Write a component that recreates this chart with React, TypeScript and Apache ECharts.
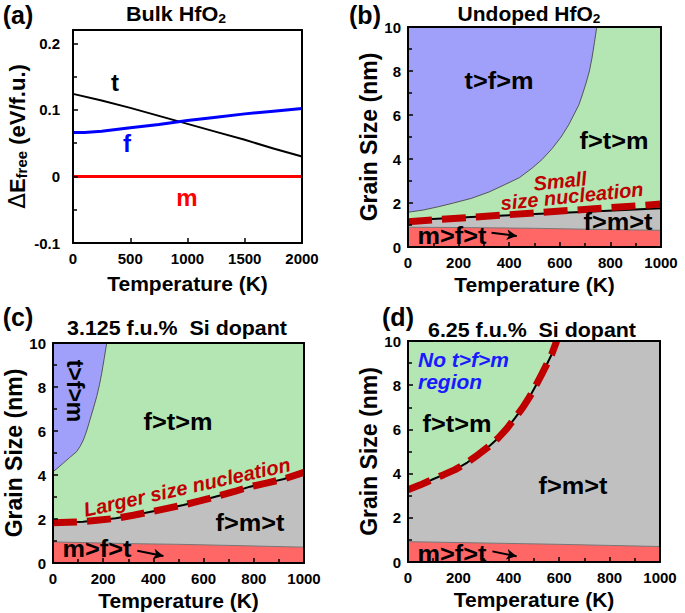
import React, { useEffect, useRef } from "react";
import * as echarts from "echarts";

const FONT = "'Liberation Sans', Arial, Helvetica, sans-serif";

// ---------- Panel (a): Bulk HfO2 free energy vs temperature ----------
const tempAT = [0, 250, 500, 750, 1000, 1250, 1500, 1750, 2000];
const energyT = [0.124, 0.114, 0.103, 0.091, 0.079, 0.067, 0.055, 0.042, 0.03];
const tempAF = [0, 100, 250, 500, 750, 1000, 1250, 1500, 1750, 2000];
const energyF = [0.066, 0.066, 0.068, 0.073, 0.078, 0.084, 0.089, 0.094, 0.098, 0.102];
const tempAM = [0, 2000];
const energyM = [0, 0];

// ---------- Panel (b): Undoped HfO2 ----------
const bTopTemps = [0, 60, 120, 180, 250, 320, 380, 440, 490, 530, 570, 605, 635, 655, 675, 690, 705, 717, 727, 737, 746, 1000];
const bTopGrain = [1.58, 1.68, 1.83, 2.0, 2.21, 2.5, 2.82, 3.15, 3.58, 3.98, 4.48, 5.0, 5.55, 6.0, 6.45, 6.95, 7.5, 8.0, 8.58, 9.3, 10, 10];
const bMidTemps = [0, 250, 500, 750, 1000];
const bMidGrain = [1.22, 1.36, 1.5, 1.63, 1.76];
const bDashGrain = [1.15, 1.35, 1.55, 1.75, 1.95];
const bLowTemps = [0, 250, 500, 750, 1000];
const bLowGrain = [0.9, 0.88, 0.85, 0.8, 0.76];
const bArrow = [[330, 0.65], [430, 0.5]];

// ---------- Panel (c): 3.125 f.u.% Si ----------
const cTopTemps = [0, 20, 40, 65, 94, 108, 121, 134, 147, 160, 174, 185, 194, 204, 214, 1000];
const cTopGrain = [4.15, 4.33, 4.53, 4.78, 5.06, 5.3, 5.59, 6.0, 6.5, 7.0, 7.56, 8.1, 8.62, 9.3, 10, 10];
const cMidTemps = [0, 60, 120, 185, 250, 320, 390, 455, 520, 585, 650, 720, 785, 850, 920, 1000];
const cMidGrain = [1.83, 1.85, 1.88, 1.95, 2.03, 2.17, 2.33, 2.48, 2.64, 2.82, 3.02, 3.24, 3.47, 3.63, 3.82, 4.12];
const cLowTemps = [0, 150, 300, 500, 700, 850, 1000];
const cLowGrain = [0.96, 0.92, 0.88, 0.85, 0.8, 0.76, 0.72];
const cArrow = [[336, 0.56], [440, 0.32]];

// ---------- Panel (d): 6.25 f.u.% Si ----------
const dCurveTemps = [0, 47, 94, 140, 187, 235, 279, 320, 358, 393, 425, 456, 484, 508, 530, 551, 570, 590, 1000];
const dCurveGrain = [3.27, 3.48, 3.72, 3.94, 4.18, 4.5, 4.86, 5.22, 5.61, 6.05, 6.52, 7.0, 7.5, 8.0, 8.48, 8.95, 9.39, 10, 10];
const dDashTemps = [0, 47, 94, 140, 187, 235, 279, 320, 358, 393, 425, 456, 484, 508, 530, 551, 570, 590];
const dDashGrain = [3.27, 3.48, 3.72, 3.94, 4.18, 4.5, 4.86, 5.22, 5.61, 6.05, 6.52, 7.0, 7.5, 8.0, 8.48, 8.95, 9.39, 10];
const dLowTemps = [0, 200, 400, 600, 800, 1000];
const dLowGrain = [0.92, 0.88, 0.84, 0.8, 0.75, 0.7];
const dArrow = [[335, 0.48], [431, 0.26]];

const C_BLUE = "#a0a0fa";
const C_GREEN = "#b4e6b4";
const C_GRAY = "#c0c0c0";
const C_RED = "#ff6666";
const C_DASH = "#c00000";

const zip = (xs: number[], ys: number[]) => xs.map((x, i) => [x, ys[i]]);

function buildOption() {
  const axisText = { color: "#000", fontWeight: "bold", fontSize: 15, fontFamily: FONT };
  const nameText = { color: "#000", fontWeight: "bold", fontSize: 21, fontFamily: FONT };
  const grids = [
    { left: 73, top: 30, width: 229, height: 213, show: true, backgroundColor: "#fff", borderWidth: 0 },
    { left: 408, top: 27, width: 253, height: 220, show: true, backgroundColor: C_BLUE, borderWidth: 0 },
    { left: 53, top: 343, width: 251, height: 220, show: true, backgroundColor: C_BLUE, borderWidth: 0 },
    { left: 408, top: 341, width: 252, height: 221, show: true, backgroundColor: C_GREEN, borderWidth: 0 },
  ];
  const frame = { show: true, onZero: false, lineStyle: { color: "#000", width: 2 } };
  const xAxes: any[] = [];
  const yAxes: any[] = [];
  const yNameGaps = [44, 27, 27, 27];
  grids.forEach((_, i) => {
    const isA = i === 0;
    xAxes.push({
      gridIndex: i, type: "value", position: "bottom", z: 10,
      min: 0, max: isA ? 2000 : 1000, interval: isA ? 500 : 200,
      axisLine: frame,
      axisTick: { show: true, inside: true, length: 5, lineStyle: { color: "#000", width: 1.5 } },
      minorTick: { show: !isA, splitNumber: 2, length: 4, lineStyle: { color: "#000", width: 1.5 } },
      splitLine: { show: false },
      axisLabel: { ...axisText, margin: 8, formatter: (v: number) => String(Math.round(v)) },
      name: "Temperature (K)", nameLocation: "middle", nameGap: isA ? 30 : 27, nameTextStyle: nameText,
    });
    xAxes.push({
      gridIndex: i, type: "value", position: "top", z: 10,
      min: 0, max: isA ? 2000 : 1000,
      axisLine: frame, axisTick: { show: false }, axisLabel: { show: false }, splitLine: { show: false },
    });
    yAxes.push({
      gridIndex: i, type: "value", position: "left", z: 10,
      min: isA ? -0.1 : 0, max: isA ? 0.22 : 10, interval: isA ? 0.1 : 2,
      axisLine: frame,
      axisTick: { show: true, inside: true, length: 5, lineStyle: { color: "#000", width: 1.5 } },
      minorTick: { show: true, splitNumber: 2, length: 4, lineStyle: { color: "#000", width: 1.5 } },
      splitLine: { show: false },
      axisLabel: {
        ...axisText, margin: isA ? 13 : 7, showMaxLabel: !isA,
        formatter: (v: number) => (Math.abs(v) < 1e-9 ? "0" : String(Math.round(v * 10) / 10)),
      },
      name: isA ? "{d|Δ}{e|E}{s|free}{e| (eV/f.u.)}" : "Grain Size (nm)",
      nameLocation: "middle", nameGap: yNameGaps[i],
      nameTextStyle: isA
        ? {
            ...nameText,
            rich: {
              d: { fontSize: 23, fontWeight: "normal", fontFamily: "'DejaVu Sans', sans-serif", color: "#000" },
              e: { fontSize: 22, fontWeight: "bold", fontFamily: FONT, color: "#000" },
              s: { fontSize: 15, fontWeight: "bold", fontFamily: FONT, color: "#000", verticalAlign: "bottom", padding: [9, 0, 0, 0] },
            },
          }
        : { ...nameText, fontSize: 23 },
    });
    yAxes.push({
      gridIndex: i, type: "value", position: "right", z: 10,
      min: isA ? -0.1 : 0, max: isA ? 0.22 : 10,
      axisLine: frame, axisTick: { show: false }, axisLabel: { show: false }, splitLine: { show: false },
    });
  });

  const ax = (i: number) => ({ xAxisIndex: 2 * i, yAxisIndex: 2 * i });
  const area = (i: number, data: number[][], fill: string, edge: string, edgeW: number, z: number, extra: any = {}) => ({
    type: "line", ...ax(i), data, symbol: "none", smooth: false, z,
    lineStyle: { color: edge, width: edgeW, join: "round" },
    areaStyle: { color: fill, opacity: 1, origin: "start" },
    silent: true,
    ...extra,
  });
  const line = (i: number, data: number[][], color: string, width: number, z: number, type: any = "solid") => ({
    type: "line", ...ax(i), data, symbol: "none", smooth: false, z, silent: true,
    lineStyle: { color, width, type, cap: "butt", join: "round" },
  });
  const arrow = (pts: number[][]) => ({
    silent: true,
    symbol: ["none", "arrow"],
    symbolSize: [8, 10],
    lineStyle: { color: "#000", width: 2, type: "solid" },
    label: { show: false },
    data: [[{ coord: pts[0] }, { coord: pts[1] }]],
  });

  const series: any[] = [
    // (a)
    line(0, zip(tempAT, energyT), "#000", 2, 3),
    line(0, zip(tempAF, energyF), "#0000ff", 3, 3),
    line(0, zip(tempAM, energyM), "#ff0000", 3, 3),
    // (b)
    area(1, zip(bTopTemps, bTopGrain), C_GREEN, "#555", 1, 2),
    area(1, zip(bMidTemps, bMidGrain), C_GRAY, "#000", 2, 3),
    area(1, zip(bLowTemps, bLowGrain), C_RED, "#777", 1, 4, { markLine: arrow(bArrow) }),
    line(1, zip(bMidTemps, bDashGrain), C_DASH, 7, 6, [24, 10]),
    // (c)
    area(2, zip(cTopTemps, cTopGrain), C_GREEN, "#555", 1, 2),
    area(2, zip(cMidTemps, cMidGrain), C_GRAY, "#000", 2, 3),
    area(2, zip(cLowTemps, cLowGrain), C_RED, "#777", 1, 4, { markLine: arrow(cArrow) }),
    line(2, zip(cMidTemps, cMidGrain), C_DASH, 7, 6, [24, 10]),
    // (d)
    area(3, zip(dCurveTemps, dCurveGrain), C_GRAY, "#000", 2, 3),
    area(3, zip(dLowTemps, dLowGrain), C_RED, "#777", 1, 4, { markLine: arrow(dArrow) }),
    line(3, zip(dDashTemps, dDashGrain), C_DASH, 7, 6, [24, 10]),
  ];

  const txt = (x: number, y: number, text: string, opts: any = {}) => ({
    type: "text", x, y, rotation: opts.rot || 0, z: 100, silent: true,
    scaleX: opts.sx || 1.1,
    style: {
      text, fill: opts.color || "#000",
      fontSize: opts.size || 23, fontWeight: "bold", fontStyle: opts.italic ? "italic" : "normal",
      fontFamily: FONT,
      align: opts.align || "center", verticalAlign: "middle",
      textAlign: opts.align || "center", textVerticalAlign: "middle",
      rich: opts.rich,
    },
  });
  const titleRich = {
    a: { fontSize: 20, fontWeight: "bold", fontFamily: FONT, fill: "#000", color: "#000" },
    s: { fontSize: 13, fontWeight: "bold", fontFamily: FONT, fill: "#000", color: "#000", verticalAlign: "bottom", padding: [10, 0, 0, 0] },
  };
  const graphic: any[] = [
    txt(18, 15, "(a)", { size: 25, sx: 1 }),
    txt(365, 15, "(b)", { size: 25, sx: 1 }),
    txt(18, 317, "(c)", { size: 25, sx: 1 }),
    txt(398, 317, "(d)", { size: 25, sx: 1 }),
    txt(176, 14, "{a|Bulk HfO}{s|2}", { rich: titleRich, sx: 1.08 }),
    txt(529, 14, "{a|Undoped HfO}{s|2}", { rich: titleRich, sx: 1.05 }),
    txt(177, 328, "3.125 f.u.%  Si dopant", { size: 20, sx: 1.07 }),
    txt(532, 330, "6.25 f.u.%  Si dopant", { size: 20, sx: 1.07 }),
    // (a)
    txt(115, 82, "t", { size: 24, sx: 1 }),
    txt(127, 143, "f", { size: 24, color: "#0000ff", sx: 1 }),
    txt(187, 197, "m", { size: 24, color: "#ff0000", sx: 1 }),
    // (b)
    txt(499, 81, "t>f>m"),
    txt(614, 141, "f>t>m"),
    txt(560, 181, "Small", { size: 20, italic: true, color: C_DASH, rot: 0.1, sx: 1 }),
    txt(572, 196, "size nucleation", { size: 20, italic: true, color: C_DASH, rot: 0.1, sx: 1 }),
    txt(618, 222, "f>m>t"),
    txt(452, 236, "m>f>t"),
    // (c)
    txt(75, 391, "t>f>m", { rot: -Math.PI / 2, sx: 1 }),
    txt(178, 422, "f>t>m"),
    txt(187, 487, "Larger size nucleation", { size: 20, italic: true, color: C_DASH, rot: 0.22, sx: 1 }),
    txt(250, 523, "f>m>t"),
    txt(97, 549, "m>f>t"),
    // (d)
    txt(418, 360, "No t>f>m", { size: 20, italic: true, color: "#1a1aff", align: "left", sx: 1.05 }),
    txt(418, 382, "region", { size: 20, italic: true, color: "#1a1aff", align: "left", sx: 1.05 }),
    txt(457, 424, "f>t>m"),
    txt(573, 486, "f>m>t"),
    txt(452, 554, "m>f>t"),
  ];

  return {
    animation: false,
    backgroundColor: "#fff",
    grid: grids,
    xAxis: xAxes,
    yAxis: yAxes,
    series,
    graphic,
  };
}

export default function App() {
  const ref = useRef<HTMLDivElement>(null);
  useEffect(() => {
    if (!ref.current) return;
    const chart = echarts.init(ref.current, undefined, { renderer: "svg" });
    chart.setOption(buildOption() as any);
    return () => chart.dispose();
  }, []);
  return (
    <div
      ref={ref}
      style={{ position: "absolute", left: 0, top: 0, width: 685, height: 613, background: "#fff" }}
    />
  );
}
